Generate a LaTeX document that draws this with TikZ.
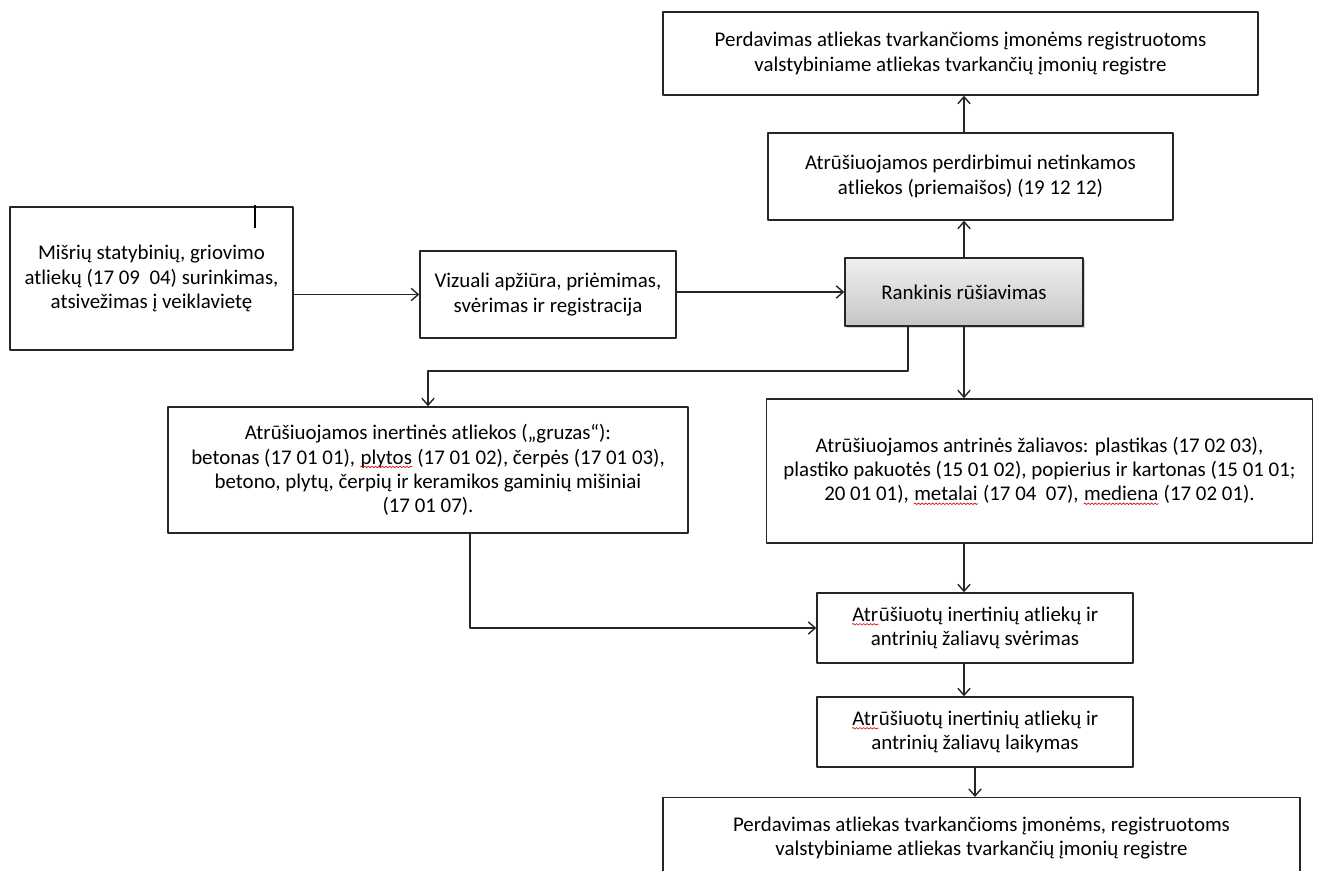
\documentclass[tikz,border=0pt]{standalone}
\usepackage{fontspec}
\setmainfont{Carlito}
\usetikzlibrary{arrows.meta,shadows,decorations.pathmorphing}
\tikzset{
  box/.style n args={2}{draw=black!85, line width=0.8pt, align=center,
    minimum width=#1*0.02cm, minimum height=#2*0.02cm, inner sep=2pt},
  grey box/.style={fill=gray!25, top color=gray!12, bottom color=gray!45,
    drop shadow={shadow xshift=1pt, shadow yshift=-1pt, opacity=0.35}},
  line/.style={draw=black!85, line width=0.8pt}
}
% spelling mark under a word
\newcommand{\spell}[1]{\tikz[baseline=(w.base)]{\node[draw=none, fill=none, inner sep=0pt, minimum size=0pt, shape=rectangle] (w) {#1};
  \draw[red!85!black, line width=0.35pt, decorate, decoration={snake, amplitude=0.45pt, segment length=2pt}] ([yshift=-1.6pt]w.base west) -- ([yshift=-1.6pt]w.base east);}}
\begin{document}
\begin{tikzpicture}[x=0.02cm, y=-0.02cm, >={Straight Barb[length=4pt, width=7pt]},
    font=\fontsize{11.9}{13.8}\selectfont, line join=round]
  \useasboundingbox (0,0) rectangle (1320,870);
  \clip (0,0) rectangle (1320,870);
  % boxes
  \node[box={283}{143}] (mix) at (151.5,278.5) {Mišrių statybinių, griovimo\\atliekų (17 09~ 04) surinkimas,\\atsivežimas į veiklavietę};
  \node[box={256}{87}] (vis) at (548,294.5) {Vizuali apžiūra, priėmimas,\\svėrimas ir registracija};
  \node[box={238}{68}, grey box] (sort) at (964,292) {Rankinis rūšiavimas};
  \node[box={405}{87}] (unfit) at (970.5,176.5) {Atrūšiuojamos perdirbimui netinkamos\\atliekos (priemaišos) (19 12 12)};
  \node[box={595}{83}] (reg1) at (960.5,53.5) {Perdavimas atliekas tvarkančioms įmonėms registruotoms\\valstybiniame atliekas tvarkančių įmonių registre};
  \node[box={520}{126}] (inert) at (428,470) {Atrūšiuojamos inertinės atliekos („gruzas“):\\betonas (17 01 01), \spell{plytos} (17 01 02), čerpės (17 01 03),\\betono, plytų, čerpių ir keramikos gaminių mišiniai\\(17 01 07).};
  \node[box={546}{144}] (second) at (1039.5,471) {Atrūšiuojamos antrinės žaliavos: plastikas (17 02 03),\\plastiko pakuotės (15 01 02), popierius ir kartonas (15 01 01;\\20 01 01), \spell{metalai} (17 04~ 07), \spell{mediena} (17 02 01).};
  \node[box={316}{70}] (weigh) at (975,628) {\spell{Atr}ūšiuotų inertinių atliekų ir\\antrinių žaliavų svėrimas};
  \node[box={316}{70}] (store) at (975,732) {\spell{Atr}ūšiuotų inertinių atliekų ir\\antrinių žaliavų laikymas};
  \node[box={637}{80}, anchor=north] (reg2) at (981.5,797) {Perdavimas atliekas tvarkančioms įmonėms, registruotoms\\valstybiniame atliekas tvarkančių įmonių registre};
  \draw[line width=1.2pt] (255,205) -- (255,228);
  % connectors
  \coordinate (br) at (908,371);
  \coordinate (bj) at (470,622);
  \draw[line,->] (mix.east |- vis.west) -- (vis.west);
  \draw[line,->] (vis.east |- sort.west) -- (sort.west);
  \draw[line,->] (sort.north) -- (sort.north |- unfit.south);
  \draw[line,->] (unfit.north -| sort.north) -- (reg1.south -| sort.north);
  \draw[line,->] (sort.south -| br) -- (br) -| (inert.north);
  \draw[line,->] (sort.south) -- (second.north -| sort.south);
  \draw[line,->] (second.south -| sort.south) -- (weigh.north -| sort.south);
  \draw[line,->] (inert.south -| bj) |- (weigh.west);
  \draw[line,->] (weigh.south -| sort.south) -- (store.north -| sort.south);
  \draw[line,->] (store.south) -- (store.south |- reg2.north);
\end{tikzpicture}
\end{document}
